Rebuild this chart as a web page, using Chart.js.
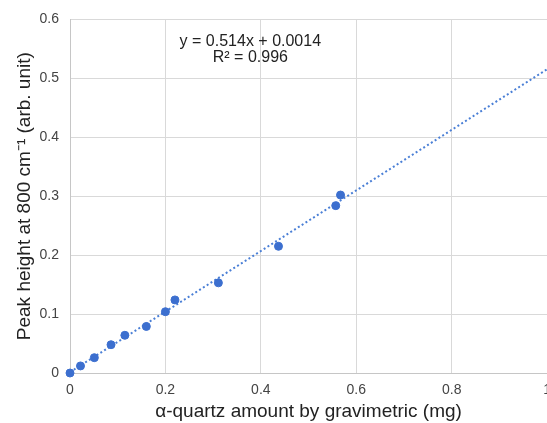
<!DOCTYPE html>
<html>
<head>
<meta charset="utf-8">
<script src="https://cdn.jsdelivr.net/npm/chart.js@4.4.1/dist/chart.umd.min.js"></script>
<style>
    html, body { margin: 0; padding: 0; background: #fff; overflow: hidden; }
    #wrap { width: 560px; height: 423px; }
</style>
</head>
<body>
<div id="wrap"><canvas id="quartzChart"></canvas></div>
<script>
// Measured data (gravimetric amount vs. peak height)
const massMg = [0, 0.022, 0.051, 0.086, 0.115, 0.160, 0.200, 0.220, 0.311, 0.437, 0.557, 0.567];
const peakHeight = [0, 0.012, 0.026, 0.048, 0.064, 0.079, 0.104, 0.124, 0.153, 0.215, 0.284, 0.302];

// Linear trendline shown on the chart
const trendSlope = 0.514;
const trendIntercept = 0.0014;
const trendX = [0, 1];
const equationLines = ['y = 0.514x + 0.0014', 'R² = 0.996'];

// Axis ranges
const xMax = 1;
const yMax = 0.6;

const fontFamily = '"Liberation Sans", Arial, sans-serif';

// Draws the fit equation inside the plot area
const equationPlugin = {
    id: 'equationLabel',
    afterDatasetsDraw(chart) {
        const ctx = chart.ctx;
        const xs = chart.scales.x;
        const ys = chart.scales.y;
        ctx.save();
        ctx.font = '16px ' + fontFamily;
        ctx.fillStyle = '#222';
        ctx.textAlign = 'center';
        ctx.textBaseline = 'middle';
        ctx.fillText(equationLines[0], xs.getPixelForValue(0.378), ys.getPixelForValue(0.563));
        ctx.fillText(equationLines[1], xs.getPixelForValue(0.378), ys.getPixelForValue(0.535));
        ctx.restore();
    }
};

document.addEventListener('DOMContentLoaded', function () {
    const ctx = document.getElementById('quartzChart').getContext('2d');
    new Chart(ctx, {
        type: 'scatter',
        data: {
            datasets: [
                {
                    label: 'Trendline',
                    type: 'line',
                    data: trendX.map(x => ({ x: x, y: trendSlope * x + trendIntercept })),
                    borderColor: '#4a7fd6',
                    borderWidth: 2,
                    borderDash: [2, 2.5],
                    pointRadius: 0,
                    fill: false,
                    order: 2
                },
                {
                    label: 'Peak height',
                    data: massMg.map((x, i) => ({ x: x, y: peakHeight[i] })),
                    backgroundColor: '#3c6fcf',
                    borderColor: '#3c6fcf',
                    pointRadius: 4,
                    clip: false,
                    order: 1
                }
            ]
        },
        options: {
            responsive: true,
            maintainAspectRatio: false,
            animation: false,
            layout: {
                padding: { left: 9, right: 0, top: 10, bottom: 0 }
            },
            plugins: {
                legend: { display: false },
                tooltip: { enabled: false }
            },
            scales: {
                x: {
                    type: 'linear',
                    min: 0,
                    max: xMax,
                    afterFit: scale => { scale.height = 50; },
                    ticks: {
                        stepSize: 0.2,
                        color: '#444',
                        font: { family: fontFamily, size: 14 },
                        padding: 9,
                        maxRotation: 0,
                        callback: v => String(Number(v.toFixed(1)))
                    },
                    grid: { color: '#d9d9d9', drawTicks: false },
                    border: { color: '#c6c6c6' },
                    title: {
                        display: true,
                        text: 'α-quartz amount by gravimetric (mg)',
                        color: '#222',
                        font: { family: fontFamily, size: 19 },
                        padding: { top: 3, bottom: 0 }
                    }
                },
                y: {
                    type: 'linear',
                    min: 0,
                    max: yMax,
                    afterFit: scale => { scale.width = 61; },
                    ticks: {
                        stepSize: 0.1,
                        color: '#444',
                        font: { family: fontFamily, size: 14 },
                        padding: 11
                    },
                    grid: { color: '#d9d9d9', drawTicks: false },
                    border: { color: '#c6c6c6' },
                    title: {
                        display: true,
                        text: 'Peak height at 800 cm⁻¹ (arb. unit)',
                        color: '#222',
                        font: { family: fontFamily, size: 19 },
                        padding: { top: 4, bottom: 5 }
                    }
                }
            }
        },
        plugins: [equationPlugin]
    });
});
</script>
</body>
</html>
